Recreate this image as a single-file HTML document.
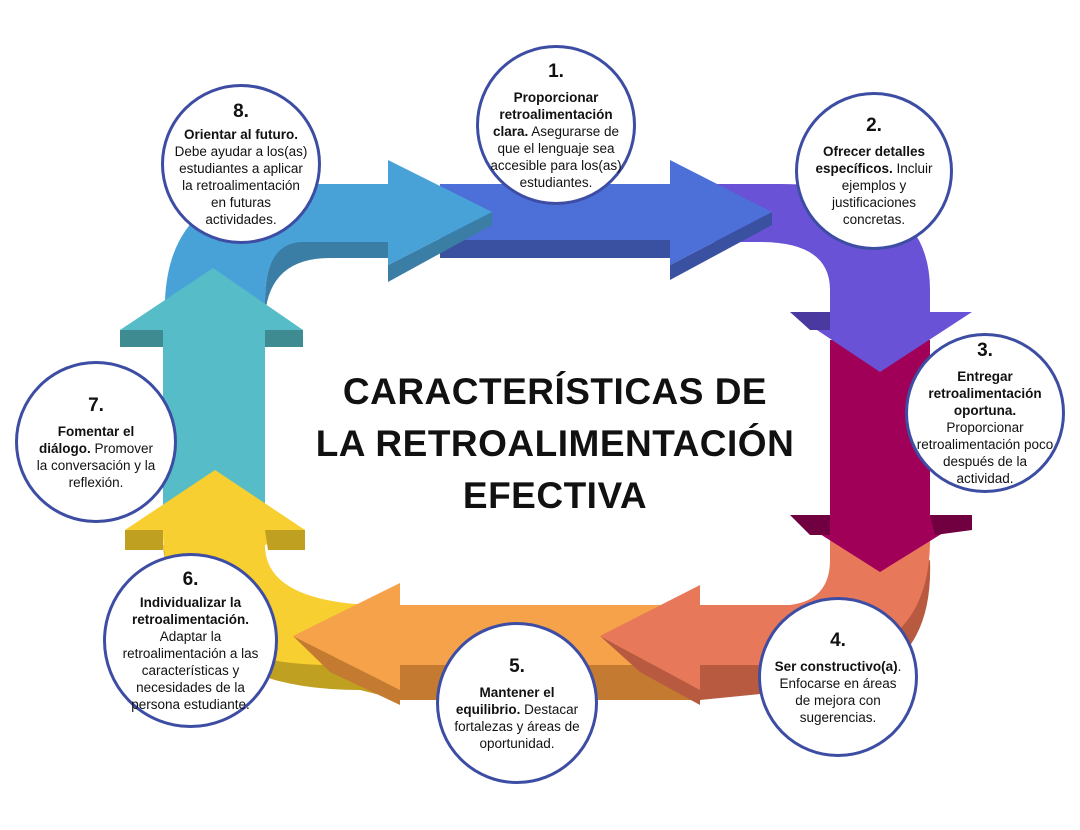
<!DOCTYPE html>
<html><head><meta charset="utf-8"><style>
html,body{margin:0;padding:0;background:#fff;}
#w{position:relative;width:1080px;height:830px;overflow:hidden;font-family:"Liberation Sans",sans-serif;}
svg{position:absolute;left:0;top:0;}
.c{position:absolute;border:3px solid #3d4da3;border-radius:50%;background:#fff;box-sizing:border-box;display:flex;flex-direction:column;align-items:center;justify-content:center;text-align:center;font-size:13.5px;line-height:17px;color:#111;padding:0 13px;}
.c .n{font-weight:bold;font-size:19px;line-height:24px;margin-bottom:5px;}
.c b{font-weight:bold;}
#t{position:absolute;left:290px;top:366px;width:530px;text-align:center;font-weight:bold;font-size:37px;line-height:52px;color:#111;letter-spacing:0.5px;}
</style></head><body><div id="w">
<svg width="1080" height="830">
<path d="M163,505 L163,330 L265,330 L265,505 Z" fill="#55bcc8"/>
<path d="M163,545 Q175,690 360,690 L400,700 L400,665 Z" fill="#c0a020"/>
<path d="M400,605 L370,605 Q265,600 265,545 L305,530 L215,470 L125,530 L163,530 Q163,665 330,665 L400,665 Z" fill="#f8cf30"/>
<polygon points="125,530 163,530 163,550 125,550" fill="#c0a020"/>
<polygon points="265,530 305,530 305,550 268,550" fill="#c0a020"/>
<polygon points="400,665 700,665 700,700 400,700" fill="#c47a30"/>
<polygon points="293,636 400,690 400,705 330,672" fill="#c47a30"/>
<path d="M700,605 L400,605 L400,583 L293,636 L400,690 L400,665 L700,665 Z" fill="#f5a24a"/>
<path d="M930,560 Q935,690 800,690 L700,700 L700,665 Z" fill="#b85a40"/>
<polygon points="600,636 700,690 700,705 640,672" fill="#b85a40"/>
<path d="M830,540 L930,540 Q930,665 790,665 L700,665 L700,690 L600,636 L700,585 L700,605 L790,605 Q830,600 830,560 Z" fill="#e8785a"/>
<path d="M830,340 L930,340 L930,515 L972,515 L880,572 L790,515 L830,515 Z" fill="#a00058"/>
<polygon points="790,515 830,515 830,535 810,535" fill="#700040"/>
<polygon points="930,515 972,515 972,530 935,535" fill="#700040"/>
<path d="M700,184 L780,184 Q930,184 930,290 L930,312 L972,312 L880,372 L790,312 L830,312 L830,290 Q830,242 760,242 L700,242 Z" fill="#6a52d6"/>
<polygon points="790,312 830,312 830,330 810,330" fill="#4a3aa0"/>
<rect x="440" y="238" width="230" height="20" fill="#3a50a0"/>
<polygon points="670,265 772,212 772,225 670,280" fill="#3a50a0"/>
<path d="M440,184 L670,184 L670,160 L772,212 L670,265 L670,240 L440,240 Z" fill="#4d70d8"/>
<path d="M265,315 Q270,258 330,258 L388,258 L388,240 L300,240 Q265,245 265,300 Z" fill="#3a7ea6"/>
<polygon points="388,265 492,212 492,225 388,282" fill="#3a7ea6"/>
<path d="M165,330 L165,300 Q170,184 300,184 L388,184 L388,160 L492,212 L388,265 L388,242 L300,242 Q265,245 265,300 L265,330 Z" fill="#48a2d8"/>
<path d="M163,332 L120,330 L213,268 L303,330 L265,330 Z" fill="#55bcc8"/>
<polygon points="120,330 163,330 163,347 120,347" fill="#3e8c92"/>
<polygon points="265,330 303,330 303,347 265,347" fill="#3e8c92"/>
</svg>
<div id="t">CARACTERÍSTICAS DE<br>LA RETROALIMENTACIÓN<br>EFECTIVA</div>
<div class="c" style="left:476px;top:45px;width:160px;height:160px;padding:0 10px;"><div class="n">1.</div><div><b>Proporcionar retroalimentación clara.</b> Asegurarse de que el lenguaje sea accesible para los(as) estudiantes.</div></div>
<div class="c" style="left:795px;top:92px;width:158px;height:158px;"><div class="n">2.</div><div><b>Ofrecer detalles específicos.</b> Incluir ejemplos y justificaciones concretas.</div></div>
<div class="c" style="left:905px;top:333px;width:160px;height:160px;padding:0 8px;"><div class="n">3.</div><div><b>Entregar retroalimentación oportuna.</b> Proporcionar retroalimentación poco después de la actividad.</div></div>
<div class="c" style="left:758px;top:597px;width:160px;height:160px;"><div class="n">4.</div><div><b>Ser constructivo(a)</b>. Enfocarse en áreas de mejora con sugerencias.</div></div>
<div class="c" style="left:436px;top:622px;width:162px;height:162px;"><div class="n">5.</div><div><b>Mantener el equilibrio.</b> Destacar fortalezas y áreas de oportunidad.</div></div>
<div class="c" style="left:103px;top:553px;width:175px;height:175px;padding:0 8px;"><div class="n" style="margin-bottom:2px">6.</div><div><b>Individualizar la retroalimentación.</b> Adaptar la retroalimentación a las características y necesidades de la persona estudiante.</div></div>
<div class="c" style="left:15px;top:361px;width:162px;height:162px;padding:0 14px;"><div class="n">7.</div><div><b>Fomentar el diálogo.</b> Promover la conversación y la reflexión.</div></div>
<div class="c" style="left:161px;top:84px;width:160px;height:160px;padding:0 10px;"><div class="n" style="margin-bottom:2px">8.</div><div><b>Orientar al futuro.</b> Debe ayudar a los(as) estudiantes a aplicar la retroalimentación en futuras actividades.</div></div>
</div></body></html>
